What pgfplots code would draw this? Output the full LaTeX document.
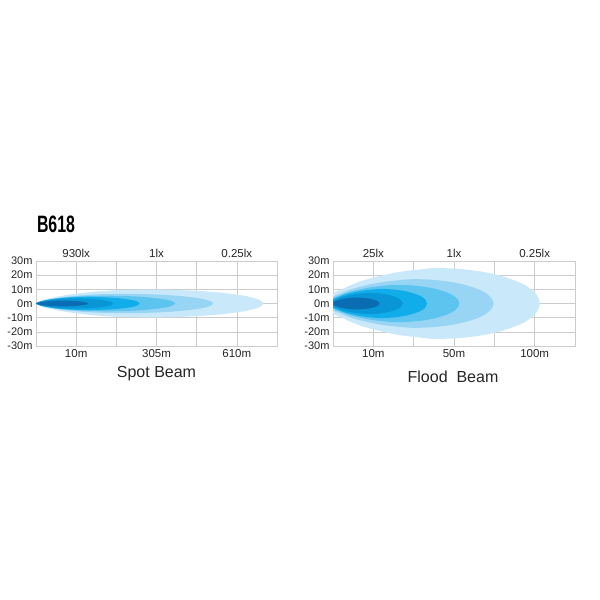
\documentclass[border=0pt]{standalone}
\usepackage{pgfplots}
\pgfplotsset{compat=1.18}
\usepackage{fontspec}
\setmainfont{Liberation Sans}
\usepackage{graphicx}
\definecolor{c1}{HTML}{C9E8FA}
\definecolor{c2}{HTML}{98D5F4}
\definecolor{c3}{HTML}{5CC4EE}
\definecolor{c4}{HTML}{10ADEA}
\definecolor{c5}{HTML}{0896D6}
\definecolor{c6}{HTML}{0A6DB3}
\definecolor{gridc}{HTML}{CCCCCC}
\pgfplotsset{beam/.style={
  scale only axis, height=85pt, anchor=south west,
  xmin=0, xmax=6, ymin=-30, ymax=30,
  xtick={0,1,...,6}, ytick={-30,-20,...,30},
  yticklabels={-30m,-20m,-10m,0m,10m,20m,30m},
  grid=major, major grid style={draw=gridc, line width=0.6pt},
  axis line style={draw=gridc, line width=0.6pt},
  major tick length=0pt,
  tick label style={font=\fontsize{11}{13}\selectfont, text=black!85},
  xticklabel style={font=\fontsize{11.5}{13}\selectfont},
  extra x tick style={xticklabel pos=top, grid=none},
  every axis plot/.append style={draw=none, smooth, tension=0.55},
}}
\begin{document}
\begin{tikzpicture}
\path[use as bounding box, fill=white] (0pt,0pt) rectangle (600pt,600pt);
\node at (56pt,375.5pt) {\scalebox{0.67}[1]{\fontsize{23.7}{24}\selectfont\bfseries B618}};
% Spot beam
\begin{axis}[beam, at={(36pt,254pt)}, width=241pt,
  xticklabels={,10m,,305m,,610m,},
  extra x ticks={1,3,5}, extra x tick labels={930lx,1lx,0.25lx}]
\addplot[fill=c1] coordinates {(0,0) (0.170,2.45) (0.453,4.41) (0.849,6.37) (1.415,8.23) (1.981,9.31) (2.83,9.8) (3.396,9.6) (3.962,8.99) (4.528,7.84) (5.094,5.88) (5.377,4.27) (5.575,2.35) (5.66,0) (5.575,-2.35) (5.377,-4.27) (5.094,-5.88) (4.528,-7.84) (3.962,-8.99) (3.396,-9.6) (2.83,-9.8) (1.981,-9.31) (1.415,-8.23) (0.849,-6.37) (0.453,-4.41) (0.170,-2.45) (0,0)};
\addplot[fill=c2] coordinates {(0,0) (0.132,1.7) (0.353,3.06) (0.662,4.42) (1.103,5.71) (1.544,6.46) (2.205,6.8) (2.646,6.66) (3.087,6.24) (3.528,5.44) (3.969,4.08) (4.19,2.96) (4.344,1.63) (4.41,0) (4.344,-1.63) (4.19,-2.96) (3.969,-4.08) (3.528,-5.44) (3.087,-6.24) (2.646,-6.66) (2.205,-6.8) (1.544,-6.46) (1.103,-5.71) (0.662,-4.42) (0.353,-3.06) (0.132,-1.7) (0,0)};
\addplot[fill=c3] coordinates {(0,0) (0.104,1.38) (0.277,2.48) (0.519,3.58) (0.865,4.62) (1.211,5.23) (1.73,5.5) (2.076,5.39) (2.422,5.04) (2.768,4.4) (3.114,3.3) (3.287,2.4) (3.408,1.32) (3.46,0) (3.408,-1.32) (3.287,-2.4) (3.114,-3.3) (2.768,-4.4) (2.422,-5.04) (2.076,-5.39) (1.73,-5.5) (1.211,-5.23) (0.865,-4.62) (0.519,-3.58) (0.277,-2.48) (0.104,-1.38) (0,0)};
\addplot[fill=c4] coordinates {(0,0) (0.077,1.15) (0.206,2.07) (0.387,2.99) (0.645,3.86) (0.903,4.37) (1.29,4.6) (1.548,4.51) (1.806,4.22) (2.064,3.68) (2.322,2.76) (2.451,2.01) (2.541,1.10) (2.58,0) (2.541,-1.10) (2.451,-2.01) (2.322,-2.76) (2.064,-3.68) (1.806,-4.22) (1.548,-4.51) (1.29,-4.6) (0.903,-4.37) (0.645,-3.86) (0.387,-2.99) (0.206,-2.07) (0.077,-1.15) (0,0)};
\addplot[fill=c5] coordinates {(0,0) (0.058,0.9) (0.154,1.62) (0.288,2.34) (0.48,3.02) (0.672,3.42) (0.96,3.6) (1.152,3.53) (1.344,3.30) (1.536,2.88) (1.728,2.16) (1.824,1.57) (1.891,0.86) (1.92,0) (1.891,-0.86) (1.824,-1.57) (1.728,-2.16) (1.536,-2.88) (1.344,-3.30) (1.152,-3.53) (0.96,-3.6) (0.672,-3.42) (0.48,-3.02) (0.288,-2.34) (0.154,-1.62) (0.058,-0.9) (0,0)};
\addplot[fill=c6] coordinates {(0,0) (0.039,0.5) (0.104,0.9) (0.195,1.3) (0.325,1.68) (0.455,1.9) (0.65,2.0) (0.78,1.96) (0.91,1.83) (1.04,1.6) (1.17,1.2) (1.235,0.87) (1.281,0.48) (1.3,0) (1.281,-0.48) (1.235,-0.87) (1.17,-1.2) (1.04,-1.6) (0.91,-1.83) (0.78,-1.96) (0.65,-2.0) (0.455,-1.9) (0.325,-1.68) (0.195,-1.3) (0.104,-0.9) (0.039,-0.5) (0,0)};
\end{axis}
% Flood beam
\begin{axis}[beam, at={(333pt,254pt)}, width=242pt,
  xticklabels={,10m,,50m,,100m,},
  extra x ticks={1,3,5}, extra x tick labels={25lx,1lx,0.25lx}]
\addplot[fill=c1] coordinates {(-0.1,0) (0,7.0) (0.257,10.5) (0.718,16.0) (1.539,21.75) (2.309,24.5) (2.565,25.0) (3.078,24.5) (3.591,22.93) (4.104,20.0) (4.617,15.0) (4.874,10.9) (5.053,6.0) (5.13,0) (5.053,-6.0) (4.874,-10.9) (4.617,-15.0) (4.104,-20.0) (3.591,-22.93) (3.078,-24.5) (2.565,-25.0) (2.309,-24.5) (1.539,-21.75) (0.718,-16.0) (0.257,-10.5) (0,-7.0) (-0.1,0)};
\addplot[fill=c2] coordinates {(-0.1,0) (0,4.82) (0.199,7.22) (0.557,11.0) (1.194,14.96) (1.791,16.86) (1.99,17.2) (2.388,16.86) (2.786,15.77) (3.184,13.76) (3.582,10.32) (3.781,7.5) (3.920,4.13) (3.98,0) (3.920,-4.13) (3.781,-7.5) (3.582,-10.32) (3.184,-13.76) (2.786,-15.77) (2.388,-16.86) (1.99,-17.2) (1.791,-16.86) (1.194,-14.96) (0.557,-11.0) (0.199,-7.22) (0,-4.82) (-0.1,0)};
\addplot[fill=c3] coordinates {(-0.1,0) (0,3.7) (0.157,5.54) (0.438,8.45) (0.939,11.48) (1.409,12.94) (1.565,13.2) (1.878,12.94) (2.191,12.1) (2.504,10.56) (2.817,7.92) (2.974,5.76) (3.083,3.17) (3.13,0) (3.083,-3.17) (2.974,-5.76) (2.817,-7.92) (2.504,-10.56) (2.191,-12.1) (1.878,-12.94) (1.565,-13.2) (1.409,-12.94) (0.939,-11.48) (0.438,-8.45) (0.157,-5.54) (0,-3.7) (-0.1,0)};
\addplot[fill=c4] coordinates {(-0.1,0) (0,2.88) (0.117,4.33) (0.326,6.59) (0.699,8.96) (1.049,10.09) (1.165,10.3) (1.398,10.09) (1.631,9.45) (1.864,8.24) (2.097,6.18) (2.214,4.49) (2.295,2.47) (2.33,0) (2.295,-2.47) (2.214,-4.49) (2.097,-6.18) (1.864,-8.24) (1.631,-9.45) (1.398,-10.09) (1.165,-10.3) (1.049,-10.09) (0.699,-8.96) (0.326,-6.59) (0.117,-4.33) (0,-2.88) (-0.1,0)};
\addplot[fill=c5] coordinates {(-0.1,0) (0,2.1) (0.087,3.15) (0.242,4.8) (0.519,6.53) (0.779,7.35) (0.865,7.5) (1.038,7.35) (1.211,6.88) (1.384,6.0) (1.557,4.5) (1.644,3.27) (1.704,1.8) (1.73,0) (1.704,-1.8) (1.644,-3.27) (1.557,-4.5) (1.384,-6.0) (1.211,-6.88) (1.038,-7.35) (0.865,-7.5) (0.779,-7.35) (0.519,-6.53) (0.242,-4.8) (0.087,-3.15) (0,-2.1) (-0.1,0)};
\addplot[fill=c6] coordinates {(0,0) (0.02,1.1) (0.075,1.9) (0.161,2.69) (0.345,3.65) (0.518,4.12) (0.575,4.2) (0.69,4.12) (0.805,3.85) (0.92,3.36) (1.035,2.52) (1.093,1.83) (1.133,1.01) (1.15,0) (1.133,-1.01) (1.093,-1.83) (1.035,-2.52) (0.92,-3.36) (0.805,-3.85) (0.69,-4.12) (0.575,-4.2) (0.518,-4.12) (0.345,-3.65) (0.161,-2.69) (0.075,-1.9) (0.02,-1.1) (0,0)};
\end{axis}
\node[font=\fontsize{16}{18}\selectfont, text=black!85] at (156.5pt,226pt) {Spot Beam};
\node[font=\fontsize{16}{18}\selectfont, text=black!85] at (453pt,223pt) {Flood\ \ Beam};
\end{tikzpicture}
\end{document}
